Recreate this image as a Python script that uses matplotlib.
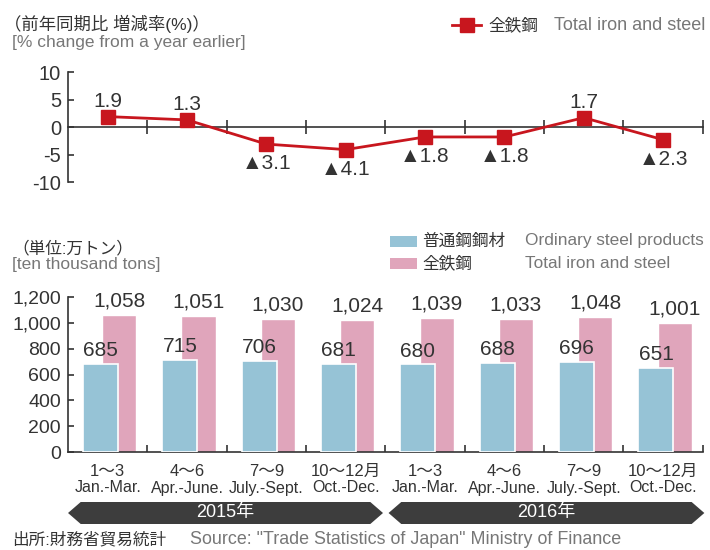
import numpy as np
import matplotlib
matplotlib.use('Agg')
import matplotlib.pyplot as plt
import matplotlib.transforms as mtransforms
from matplotlib.patches import Polygon, Rectangle
from matplotlib.lines import Line2D
from matplotlib import font_manager

names = {f.name for f in font_manager.fontManager.ttflist}
narrow = 'Liberation Sans Narrow' if 'Liberation Sans Narrow' in names else 'Liberation Sans'
narrow_size = 12.5 if narrow == 'Liberation Sans Narrow' else 11.5

plt.rcParams['font.family'] = ['Liberation Sans', 'Noto Sans CJK JP']
plt.rcParams['axes.unicode_minus'] = False

# data
quarters_jp = ['1～3', '4～6', '7～9', '10～12月'] * 2
quarters_en = ['Jan.-Mar.', 'Apr.-June.', 'July.-Sept.', 'Oct.-Dec.'] * 2
years = ['2015年', '2016年']
change_total = [1.9, 1.3, -3.1, -4.1, -1.8, -1.8, 1.7, -2.3]
ordinary = [685, 715, 706, 681, 680, 688, 696, 651]
total = [1058, 1051, 1030, 1024, 1039, 1033, 1048, 1001]

red = '#c8161e'
blue = '#96c3d6'
pink = '#e0a5bb'
dark = '#333333'
grey = '#777777'

x = np.arange(len(change_total)) + 0.5

fig = plt.figure(figsize=(7.1, 5.5), dpi=100)

# ---- top: % change line ----
ax1 = fig.add_axes([0.0958, 0.669, 0.894, 0.2])
ax1.set_xlim(0, 8)
ax1.set_ylim(-10, 10)
for s in ['top', 'right']:
    ax1.spines[s].set_visible(False)
ax1.spines['bottom'].set_position(('data', 0))
ax1.spines['bottom'].set_color(dark)
ax1.spines['left'].set_color(dark)
ax1.spines['bottom'].set_linewidth(1.2)
ax1.spines['left'].set_linewidth(1.2)
ax1.set_xticks(range(1, 9))
ax1.set_xticklabels([])
ax1.tick_params(axis='x', direction='inout', length=10, width=1.2, color=dark)
ax1.set_yticks([-10, -5, 0, 5, 10])
ax1.tick_params(axis='y', direction='in', length=4, width=1.2, color=dark,
                labelsize=14.5, labelcolor=dark, pad=5)

ax1.plot(x, change_total, color=red, lw=2, marker='s', ms=9.5, zorder=3, clip_on=False)
for xi, v in zip(x, change_total):
    label = f'{v}' if v > 0 else f'▲{abs(v)}'
    ax1.annotate(label, (xi, v), xytext=(0, 11 if v > 0 else -14),
                 textcoords='offset points', ha='center', va='center',
                 fontsize=15, color=dark)

fig.text(0.006, 1 - 24 / 550, '（前年同期比 増減率(%)）', fontsize=12.5, color=dark, va='center')
fig.text(0.017, 1 - 43 / 550, '[% change from a year earlier]', fontsize=12.5, color=grey, va='center')

# top legend
fig.add_artist(Line2D([452 / 710, 481 / 710], [1 - 25 / 550] * 2, color=red, lw=2,
                      transform=fig.transFigure))
fig.add_artist(Line2D([466.5 / 710], [1 - 25 / 550], color=red, marker='s', ms=9.5,
                      transform=fig.transFigure))
fig.text(488 / 710, 1 - 25 / 550, '全鉄鋼', fontsize=12, color=dark, va='center')
fig.text(554 / 710, 1 - 25 / 550, 'Total iron and steel', fontsize=13, color=grey, va='center')

# ---- bottom: volume bars ----
ax2 = fig.add_axes([0.0958, 0.178, 0.894, 0.282])
ax2.set_xlim(0, 8)
ax2.set_ylim(0, 1200)
for s in ['top', 'right']:
    ax2.spines[s].set_visible(False)
for s in ['left', 'bottom']:
    ax2.spines[s].set_color(dark)
    ax2.spines[s].set_linewidth(1.2)
ax2.set_xticks(range(1, 9))
ax2.set_xticklabels([])
ax2.tick_params(axis='x', direction='in', length=5, width=1.2, color=dark)
ax2.set_yticks(range(0, 1201, 200))
ax2.set_yticklabels([f'{t:,}' for t in range(0, 1201, 200)])
ax2.tick_params(axis='y', direction='in', length=4, width=1.2, color=dark,
                labelsize=14, labelcolor=dark, pad=5)

ax2.bar(x + 0.145, total, width=0.43, color=pink, edgecolor='white', lw=1, zorder=2)
ax2.bar(x - 0.09, ordinary, width=0.44, color=blue, edgecolor='white', lw=1.2, zorder=3)
for xi, v in zip(x, total):
    ax2.annotate(f'{v:,}', (xi + 0.145, v), xytext=(0, 10), textcoords='offset points',
                 ha='center', va='center', fontsize=15, color=dark, zorder=5)
for xi, v in zip(x, ordinary):
    ax2.annotate(f'{v:,}', (xi - 0.09, v), xytext=(0, 9.5), textcoords='offset points',
                 ha='center', va='center', fontsize=15, color=dark, zorder=5)

blend = mtransforms.blended_transform_factory(ax2.transData, fig.transFigure)
for xi, jp, en in zip(x, quarters_jp, quarters_en):
    ax2.text(xi, 1 - 471 / 550, jp, transform=blend, ha='center', va='center',
             fontsize=12, color=dark, family=[narrow, 'Noto Sans CJK JP'])
    ax2.text(xi, 1 - 488 / 550, en, transform=blend, ha='center', va='center',
             fontsize=narrow_size, color=dark, family=[narrow, 'Noto Sans CJK JP'])

# year arrows
y0, y1 = 1 - 524 / 550, 1 - 502 / 550
ym = (y0 + y1) / 2
tip = 0.16
for (a, b), yr in zip([(0.0, 3.97), (4.04, 8.02)], years):
    poly = Polygon([(a, ym), (a + tip, y1), (b - tip, y1), (b, ym), (b - tip, y0), (a + tip, y0)],
                   closed=True, facecolor='#3d3d3d', edgecolor='none', transform=blend,
                   clip_on=False)
    fig.add_artist(poly)
    fig.text((a + b) / 2, ym, yr, transform=blend, ha='center', va='center', color='white',
             fontsize=13, family=[narrow, 'Noto Sans CJK JP'])

fig.text(0.017, 1 - 248 / 550, '（単位:万トン）', fontsize=12, color=dark, va='center')
fig.text(0.017, 1 - 265 / 550, '[ten thousand tons]', fontsize=12.5, color=grey, va='center')

# bottom legend
fig.add_artist(Rectangle((390 / 710, 1 - 246.5 / 550), 27 / 710, 11 / 550,
                         facecolor=blue, transform=fig.transFigure))
fig.add_artist(Rectangle((390 / 710, 1 - 268.5 / 550), 27 / 710, 11 / 550,
                         facecolor=pink, transform=fig.transFigure))
fig.text(422 / 710, 1 - 241 / 550, '普通鋼鋼材', fontsize=12, color=dark, va='center')
fig.text(525 / 710, 1 - 241 / 550, 'Ordinary steel products', fontsize=12.4, color=grey, va='center')
fig.text(422 / 710, 1 - 263 / 550, '全鉄鋼', fontsize=12, color=dark, va='center')
fig.text(525 / 710, 1 - 263 / 550, 'Total iron and steel', fontsize=12.4, color=grey, va='center')

fig.text(0.017, 1 - 540 / 550, '出所:財務省貿易統計', fontsize=12, color=dark, va='center')
fig.text(190 / 710, 1 - 540 / 550, 'Source: "Trade Statistics of Japan" Ministry of Finance',
         fontsize=12.9, color=grey, va='center')

fig.savefig('out.png', dpi=100)
